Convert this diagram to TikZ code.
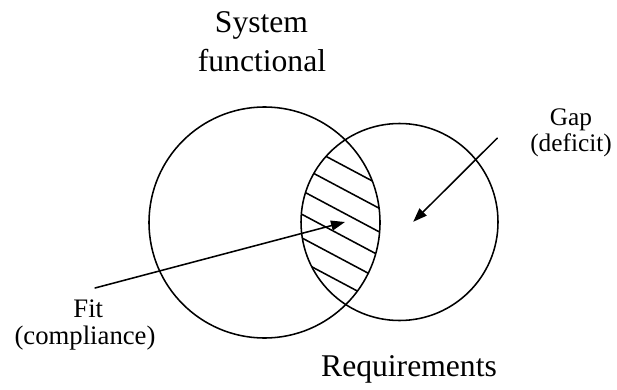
\documentclass[tikz,border=0pt]{standalone}
\usepackage{fontspec}
\setmainfont{Liberation Serif}
\usepackage{xcolor}
\usepackage{tkz-base}
\usepackage{tkz-euclide}
\usetikzlibrary{arrows.meta}

\begin{document}
\begin{tikzpicture}
        % Paso 0: Fija el marco del dibujo.
        \path[use as bounding box] (0,0) rectangle (15.425,9.725);

        % Paso 1: Define centros y puntos de las circunferencias S (sistema) y R (requisitos).
        \tkzDefPoint(6.6125,4.1625){S}
        \tkzDefPoint(9.5,4.1625){A}
        \tkzDefPoint(9.9875,4.175){R}
        \tkzDefPoint(12.45,4.175){B}

        % Paso 2: Rellena la interseccion con lineas inclinadas.
        \begin{scope}
            \clip (S) circle (2.8875);
            \clip (R) circle (2.4625);
            \foreach \k in {0,...,6}
                \draw[line width=1.1pt] ($(8.5,5.63-0.59*\k)+(-4,2.128)$) -- ($(8.5,5.63-0.59*\k)+(4,-2.128)$);
        \end{scope}

        % Paso 3: Dibuja las dos circunferencias.
        \tkzDrawCircle[line width=1.1pt,black](S,A)
        \tkzDrawCircle[line width=1.1pt,black](R,B)

        % Paso 4: Define extremos de las flechas.
        \tkzDefPoint(2.375,2.525){F1}
        \tkzDefPoint(8.625,4.175){F2}
        \tkzDefPoint(12.43,6.27){G1}
        \tkzDefPoint(10.33,4.18){G2}

        % Paso 5: Dibuja las flechas.
        \tkzDrawSegment[line width=1.1pt,black,-{Triangle[length=0.35cm,width=0.25cm]}](F1,F2)
        \tkzDrawSegment[line width=1.1pt,black,-{Triangle[length=0.35cm,width=0.25cm]}](G1,G2)

        % Paso 6: Escribe los textos.
        \node[anchor=base,font=\fontsize{22.5}{27}\selectfont] (sys) at (6.5375,8.9) {System};
        \node[anchor=base,font=\fontsize{22.5}{27}\selectfont] (fun) at (6.55,7.925) {functional};
        \node[anchor=base,font=\fontsize{22.5}{27}\selectfont] (req) at (10.225,0.3125) {Requirements};
        \node[anchor=base,font=\fontsize{18}{22}\selectfont] (gap) at (14.275,6.575) {Gap};
        \node[anchor=base,font=\fontsize{18}{22}\selectfont] (def) at (14.275,5.925) {(deficit)};
        \node[anchor=base,font=\fontsize{19}{23}\selectfont] (fit) at (2.2075,1.8) {Fit};
        \node[anchor=base,font=\fontsize{19}{23}\selectfont] (comp) at (2.125,1.125) {(compliance)};
    \end{tikzpicture}
\end{document}
